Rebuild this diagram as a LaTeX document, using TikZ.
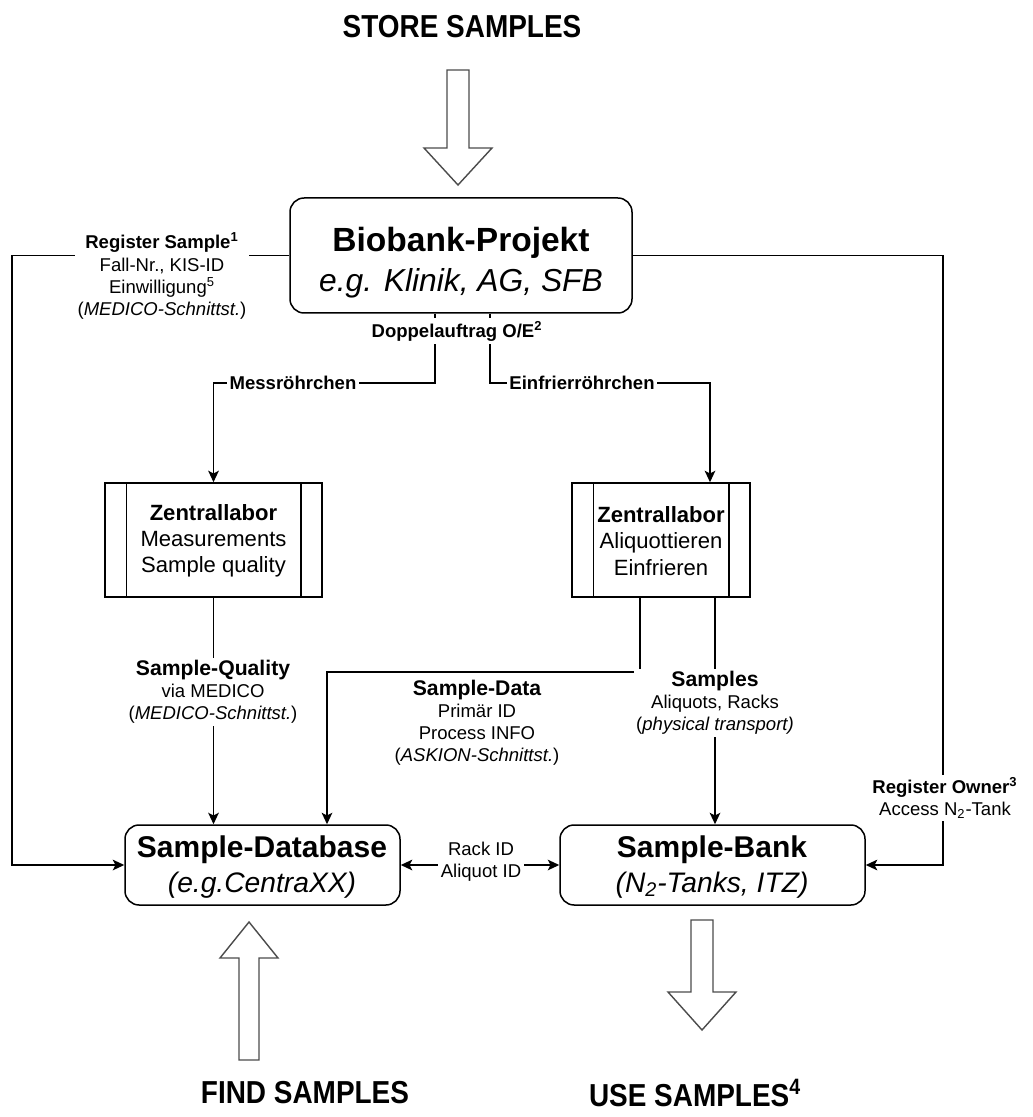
\documentclass[tikz,border=0pt]{standalone}
\usepackage{fontspec}
\setmainfont{Liberation Sans}
\usepackage{graphicx}
\usetikzlibrary{arrows.meta,fit,calc}
\begin{document}
\begin{tikzpicture}[x=0.5667pt,y=-0.5667pt,
  ln/.style={line width=0.85pt,black},
  arr/.style={ln,-{Stealth[length=6.5pt,width=6pt,inset=1.5pt]}},
  dblarr/.style={ln,{Stealth[length=6.5pt,width=6pt,inset=1.5pt]}-{Stealth[length=6.5pt,width=6pt,inset=1.5pt]}},
  rbox/.style={draw,line width=0.85pt,rounded corners=8pt,inner sep=0pt},
  pbox/.style={draw,line width=0.85pt,inner sep=0pt},
  lbl/.style={fill=white,align=center,inner sep=1.5pt,font=\fontsize{10.5}{12.5}\selectfont},
  txt/.style={inner sep=0pt,align=center},
  bigarrow/.style={draw=black!70,line width=0.8pt,fill=white,line join=miter},
  title/.style={inner sep=0pt,font=\fontsize{18}{20}\selectfont\bfseries}
]
\useasboundingbox (0,0) rectangle (1032,1117);

% titles
\node[title] (tstore) at (462,27) {\scalebox{0.88}[1]{STORE SAMPLES}};
\node[title] (tfind) at (305,1093) {\scalebox{0.88}[1]{FIND SAMPLES}};
\node[title] (tuse) at (695,1093) {\scalebox{0.88}[1]{USE SAMPLES\textsuperscript{4}}};

% big block arrows
\draw[bigarrow] (447,70) -- (469,70) -- (469,148) -- (492,148) -- (458,185) -- (424,148) -- (447,148) -- cycle;
\draw[bigarrow] (239,1060) -- (259,1060) -- (259,958) -- (278,958) -- (249,922) -- (220,958) -- (239,958) -- cycle;
\draw[bigarrow] (691,920) -- (713,920) -- (713,992) -- (736,992) -- (702,1030) -- (668,992) -- (691,992) -- cycle;

% boxes
\node[rbox,fit={(290,198) (632,313)}] (bio) {};
\node[txt,font=\fontsize{19}{21}\selectfont\bfseries] (biot) at (461,243) {Biobank-Projekt};
\node[txt,font=\fontsize{18}{20}\selectfont\itshape] (bios) at (461,283) {e.g. Klinik, AG, SFB};

\node[pbox,fit={(105,483) (322,597)}] (zl1) {};
\draw[ln] ($(zl1.north west)+(22,0)$) -- ($(zl1.south west)+(22,0)$);
\draw[ln] ($(zl1.north east)+(-22,0)$) -- ($(zl1.south east)+(-22,0)$);
\node[txt,font=\fontsize{12.5}{14.8}\selectfont] (zl1t) at (213.5,541) {\textbf{Zentrallabor}\\Measurements\\Sample quality};

\node[pbox,fit={(572,483) (750,597)}] (zl2) {};
\draw[ln] ($(zl2.north west)+(22,0)$) -- ($(zl2.south west)+(22,0)$);
\draw[ln] ($(zl2.north east)+(-22,0)$) -- ($(zl2.south east)+(-22,0)$);
\node[txt,font=\fontsize{12.5}{14.8}\selectfont] (zl2t) at (661,541) {\textbf{Zentrallabor}\\Aliquottieren\\Einfrieren};

\node[rbox,fit={(125,825) (400,905)}] (db) {};
\node[txt,font=\fontsize{17}{19}\selectfont\bfseries] (dbt) at (262,850) {Sample-Database};
\node[txt,font=\fontsize{16}{18}\selectfont\itshape] (dbs) at (262,885) {(e.g.CentraXX)};

\node[rbox,fit={(560,825) (865,905)}] (bank) {};
\node[txt,font=\fontsize{17}{19}\selectfont\bfseries] (bankt) at (712,850) {Sample-Bank};
\node[txt,font=\fontsize{16}{18}\selectfont\itshape] (banks) at (712,885) {(N\textsubscript{2}-Tanks, ITZ)};

% helper coordinates
\coordinate (xL) at (12,0);
\coordinate (xR) at (943,0);
\coordinate (d1) at (435,0);
\coordinate (d2) at (490,0);
\coordinate (hy) at (0,383);
\coordinate (e1) at (710,0);
\coordinate (s1) at (640,0);
\coordinate (s2) at (327,0);
\coordinate (s3) at (715,0);
\coordinate (sy) at (0,672);

% connectors
\draw[arr] (bio.west) -- (bio.west -| xL) |- (db.west);
\draw[arr] (bio.east) -- (bio.east -| xR) |- (bank.east);
\draw[arr] (bio.south -| d1) -- (d1 |- hy) -| (zl1.north);
\draw[arr] (bio.south -| d2) -- (d2 |- hy) -| (zl2.north -| e1);
\draw[arr] (zl1.south) -- (zl1.south |- db.north);
\draw[arr] (zl2.south -| s1) -- (s1 |- sy) -| (db.north -| s2);
\draw[arr] (zl2.south -| s3) -- (bank.north -| s3);
\draw[dblarr] (db.east) -- (bank.west);

% labels
\node[lbl] (lregs) at (162,276) {\textbf{Register Sample\textsuperscript{1}}\\Fall-Nr., KIS-ID\\Einwilligung\textsuperscript{5}\\(\textit{MEDICO-Schnittst.})};
\node[lbl] (lrego) at (945,798) {\textbf{Register Owner\textsuperscript{3}}\\Access N\textsubscript{2}-Tank};
\node[lbl,font=\fontsize{10.5}{12.5}\selectfont\bfseries] (ldop) at (457,331) {Doppelauftrag O/E\textsuperscript{2}};
\node[lbl,font=\fontsize{10.5}{12.5}\selectfont\bfseries] (lmess) at (293,383) {Messröhrchen};
\node[lbl,font=\fontsize{10.5}{12.5}\selectfont\bfseries] (leinf) at (582,383) {Einfrierröhrchen};
\node[lbl] (lsq) at (213,692) {{\fontsize{12}{14}\selectfont\bfseries Sample-Quality}\\via MEDICO\\(\textit{MEDICO-Schnittst.})};
\node[lbl] (lsd) at (477,723) {{\fontsize{12}{14}\selectfont\bfseries Sample-Data}\\Primär ID\\Process INFO\\(\textit{ASKION-Schnittst.})};
\node[lbl] (lsam) at (715,703) {{\fontsize{12}{14}\selectfont\bfseries Samples}\\Aliquots, Racks\\(\textit{physical transport)}};
\node[lbl] (lrack) at (481,862) {Rack ID\\Aliquot ID};
\end{tikzpicture}
\end{document}
